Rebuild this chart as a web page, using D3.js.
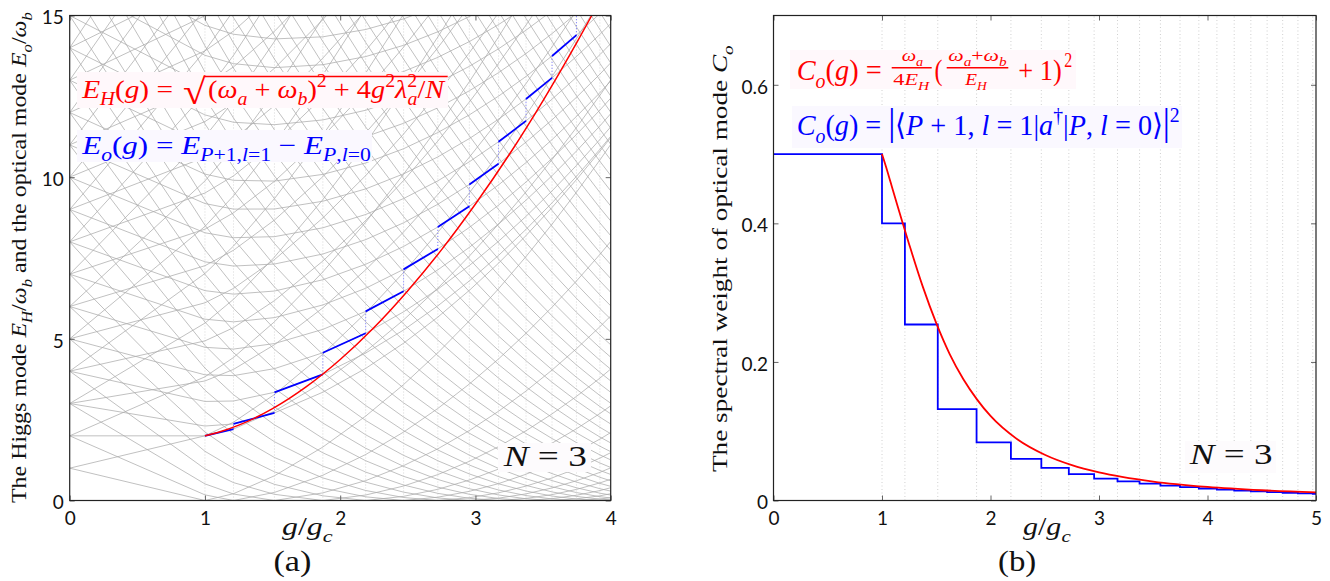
<!DOCTYPE html>
<html>
<head>
<meta charset="utf-8">
<script src="https://cdn.jsdelivr.net/npm/d3@7"></script>
<style>
body { margin: 0; background: #fff; }
text { white-space: pre; }
</style>
</head>
<body>
<svg id="fig" width="1330" height="581"></svg>
<script>
// spectrum of sector P: levels start at E=P (g=0) and fan out with these slopes
var bigSlope = [0, 1, 1.8257, 2.4862, 3.0205, 3.4775, 3.8826, 4.2500, 4.5884, 4.9038, 5.2002,
  5.4806, 5.7475, 6.0026, 6.2473, 6.4828, 6.7101, 6.9299, 7.1430, 7.3499, 7.5511,
  7.7472, 7.9384, 8.1251, 8.3076, 8.4862, 8.6611, 8.8326, 9.0008, 9.1659, 9.3281,
  9.4875, 9.6443, 9.7986, 9.9504, 10.1000, 10.2475, 10.3928, 10.5361, 10.6775, 10.8171,
  10.9549, 11.0909, 11.2254, 11.3582, 11.4895, 11.6193, 11.7477, 11.8747, 12.0003, 12.1247,
  12.2478, 12.3696, 12.4903, 12.6098, 12.7282];
var smallSlope = [null, null, 0, 0.6967, 0.9364, 1.1137, 1.2618, 1.3920, 1.5099, 1.6186, 1.7200,
  1.8155, 1.9059, 1.9922, 2.0747, 2.1540, 2.2305, 2.3043, 2.3758, 2.4452, 2.5127,
  2.5784, 2.6424, 2.7049, 2.7659, 2.8257, 2.8842, 2.9415, 2.9977, 3.0529, 3.1071,
  3.1603, 3.2127, 3.2642, 3.3149, 3.3649, 3.4141, 3.4626, 3.5104, 3.5576, 3.6042,
  3.6502, 3.6956, 3.7405, 3.7848, 3.8286, 3.8719, 3.9147, 3.9571, 3.9990, 4.0405,
  4.0816, 4.1222, 4.1625, 4.2023, 4.2418];

// Higgs mode E_H(g)
var higgsG = [1, 1.1, 1.25, 1.5, 1.75, 2, 2.25, 2.5, 2.75, 3, 3.25, 3.5, 3.75, 3.86];
var higgsE = [2.0, 2.11, 2.33, 2.84, 3.52, 4.36, 5.35, 6.49, 7.76, 9.17, 10.70, 12.37, 14.17, 15.0];

// spectral weight, panel (b)
var weightG = [1, 1.05, 1.1, 1.25, 1.375, 1.5, 1.625, 1.75, 1.875, 2, 2.25, 2.5, 2.75, 3, 3.5, 4, 4.5, 5];
var weightC = [0.5, 0.475, 0.448, 0.370, 0.309, 0.256, 0.211, 0.175, 0.146, 0.122, 0.088, 0.066,
  0.051, 0.0405, 0.0273, 0.0196, 0.0148, 0.0116];
var stepC = [0.5, 0.40, 0.254, 0.132, 0.084, 0.060, 0.047, 0.038, 0.0315, 0.0277, 0.0243,
  0.0215, 0.0192, 0.0173, 0.0157, 0.0143, 0.0131, 0.0121, 0.0112, 0.0104, 0.0097];

var ticksA = { x: [0, 1, 2, 3, 4], y: [0, 5, 10, 15] };
var ticksB = { x: [0, 1, 2, 3, 4, 5], y: [0, 0.2, 0.4, 0.6] };

var svg = d3.select("#fig");
var serif = "'Liberation Serif', 'Times New Roman', serif";
var sans = "Lato, 'Open Sans', sans-serif";

var xA = d3.scaleLinear().domain([0, 4]).range([69.7, 610.7]);
var yA = d3.scaleLinear().domain([0, 15]).range([500.5, 15.5]);
var xB = d3.scaleLinear().domain([0, 5]).range([773.5, 1316]);
var yB = d3.scaleLinear().domain([0, 0.7]).range([500.5, 15.5]);

// where the ground state moves to the next sector
var kinkG = bigSlope.slice(0, -1).map(function(b, P) { return 1 / (bigSlope[P + 1] - b); });
function ground(g) { return d3.min(bigSlope, function(b, P) { return P - b * g; }); }
function levels(P) {
  if (P === 0) return [0];
  if (P === 1) return [-1, 1];
  if (P === 2) return [-bigSlope[2], 0, bigSlope[2]];
  return [-bigSlope[P], -smallSlope[P], smallSlope[P], bigSlope[P]];
}

var defs = svg.append("defs");
defs.append("clipPath").attr("id", "clipA").append("rect")
  .attr("x", xA(0)).attr("y", yA(15)).attr("width", xA(4) - xA(0)).attr("height", yA(0) - yA(15));
defs.append("clipPath").attr("id", "clipB").append("rect")
  .attr("x", xB(0)).attr("y", yB(0.7)).attr("width", xB(5) - xB(0)).attr("height", yB(0) - yB(0.7));

// ---------- panel (a) ----------
var pa = svg.append("g").attr("clip-path", "url(#clipA)");
var gSamples = [0].concat(kinkG.filter(function(k) { return k < 4; })).concat([4]);
var lineA = d3.line().x(function(d) { return xA(d[0]); }).y(function(d) { return yA(d[1]); });

pa.selectAll(".kink").data(kinkG.filter(function(k) { return k < 4; })).enter().append("line")
  .attr("x1", function(d) { return xA(d); }).attr("x2", function(d) { return xA(d); })
  .attr("y1", yA(0)).attr("y2", yA(15))
  .attr("stroke", "#cfcfcf").attr("stroke-width", 0.8).attr("stroke-dasharray", "1,2");

var mesh = [];
bigSlope.forEach(function(b, P) {
  levels(P).forEach(function(s) {
    mesh.push(gSamples.map(function(g) { return [g, P + s * g - ground(g)]; }));
  });
});
pa.selectAll(".level").data(mesh).enter().append("path")
  .attr("d", lineA).attr("fill", "none")
  .attr("stroke", "#ababab").attr("stroke-width", 0.75);

// optical mode: E_{P+1,l=1} - E_{P,l=0} on each ground-state interval
function optical(P, g) { return (P + 1 - smallSlope[P + 1] * g) - (P - bigSlope[P] * g); }
var segs = [], jumps = [];
for (var P = 1; P < kinkG.length && kinkG[P - 1] < 4; P++) {
  var g0 = kinkG[P - 1], g1 = Math.min(kinkG[P], 4);
  segs.push([[g0, optical(P, g0)], [g1, optical(P, g1)]]);
  if (kinkG[P] < 4) jumps.push([[g1, optical(P, g1)], [g1, optical(P + 1, g1)]]);
}
pa.selectAll(".jump").data(jumps).enter().append("path")
  .attr("d", lineA).attr("fill", "none")
  .attr("stroke", "#7d7dff").attr("stroke-width", 1).attr("stroke-dasharray", "1,2");
pa.selectAll(".seg").data(segs).enter().append("path")
  .attr("d", lineA).attr("fill", "none")
  .attr("stroke", "#0000ff").attr("stroke-width", 1.8);

pa.append("path")
  .datum(d3.zip(higgsG, higgsE))
  .attr("d", lineA.curve(d3.curveMonotoneX))
  .attr("fill", "none").attr("stroke", "#ff0000").attr("stroke-width", 1.5);

// ---------- panel (b) ----------
var pb = svg.append("g").attr("clip-path", "url(#clipB)");
pb.selectAll(".kink").data(kinkG.filter(function(k) { return k < 5; })).enter().append("line")
  .attr("x1", function(d) { return xB(d); }).attr("x2", function(d) { return xB(d); })
  .attr("y1", yB(0)).attr("y2", yB(0.7))
  .attr("stroke", "#c4c4c4").attr("stroke-width", 0.8).attr("stroke-dasharray", "1,2.5");

var stepPts = stepC.map(function(c, i) { return [i === 0 ? 0 : kinkG[i - 1], c]; });
stepPts.push([5, stepC[stepC.length - 1]]);
pb.append("path").datum(stepPts)
  .attr("d", d3.line().x(function(d) { return xB(d[0]); }).y(function(d) { return yB(d[1]); })
    .curve(d3.curveStepAfter))
  .attr("fill", "none").attr("stroke", "#0000ff").attr("stroke-width", 1.8);
pb.append("path").datum(d3.zip(weightG, weightC))
  .attr("d", d3.line().x(function(d) { return xB(d[0]); }).y(function(d) { return yB(d[1]); })
    .curve(d3.curveMonotoneX))
  .attr("fill", "none").attr("stroke", "#ff0000").attr("stroke-width", 1.8);

// ---------- axes and frames ----------
function frame(x, y, tx, ty, fmt, pad) {
  var b = svg.append("g").attr("transform", "translate(0," + y.range()[0] + ")")
    .call(d3.axisBottom(x).tickValues(tx).tickSize(-5).tickPadding(11).tickFormat(d3.format("d")));
  var t = svg.append("g").attr("transform", "translate(0," + y.range()[1] + ")")
    .call(d3.axisTop(x).tickValues(tx).tickSize(-5).tickFormat(""));
  var l = svg.append("g").attr("transform", "translate(" + x.range()[0] + ",0)")
    .call(d3.axisLeft(y).tickValues(ty).tickSize(-5).tickPadding(pad).tickFormat(fmt));
  var r = svg.append("g").attr("transform", "translate(" + x.range()[1] + ",0)")
    .call(d3.axisRight(y).tickValues(ty).tickSize(-5).tickFormat(""));
  [b, t, l, r].forEach(function(a) {
    a.select(".domain").remove();
    a.selectAll(".tick line").attr("stroke", "#666");
    a.selectAll("text").attr("font-family", sans).attr("font-size", 19).attr("fill", "#111");
  });
  l.selectAll("text").attr("dy", "0.44em");
  svg.append("rect")
    .attr("x", x.range()[0]).attr("y", y.range()[1])
    .attr("width", x.range()[1] - x.range()[0]).attr("height", y.range()[0] - y.range()[1])
    .attr("fill", "none").attr("stroke", "#222").attr("stroke-width", 1.2);
}
frame(xA, yA, ticksA.x, ticksA.y, d3.format("d"), 6);
frame(xB, yB, ticksB.x, ticksB.y, function(d) { return d === 0 ? "0" : d3.format(".1f")(d); }, 5.5);

// ---------- math text ----------
function math(parent, x, y, size, color, parts, anchor) {
  var t = parent.append("text").attr("x", x).attr("y", y)
    .attr("font-family", serif).attr("font-size", size).attr("fill", color)
    .attr("text-anchor", anchor || "start");
  var shift = 0;
  parts.forEach(function(p) {
    var f = p[1] || "";
    var sub = f.indexOf("b") >= 0, sup = f.indexOf("p") >= 0;
    var target = sub ? size * 0.28 : sup ? -size * 0.42 : 0;
    var ts = t.append("tspan").text(p[0])
      .attr("font-size", p[3] || ((sub || sup) ? size * 0.7 : size))
      .attr("dy", target - shift);
    if (f.indexOf("i") >= 0) ts.attr("font-style", "italic");
    if (p[2]) ts.attr("dx", p[2]);
    shift = target;
  });
  return t;
}
function fit(t, x0, w) {
  var bb = t.node().getBBox();
  t.attr("transform", "translate(" + x0 + ",0) scale(" + (w / bb.width) + ",1) translate(" + (-bb.x) + ",0)");
  return t;
}
function box(x0, y0, x1, y1, fill) {
  svg.append("rect").attr("x", x0).attr("y", y0).attr("width", x1 - x0).attr("height", y1 - y0)
    .attr("fill", fill);
}

// panel (a) labels
box(77, 72, 448, 108, "#fff8fb");
fit(math(svg, 0, 98, 26, "#ff0000", [["E", "i"], ["H", "ib"], ["(", ""], ["g", "i"], [") =", ""]]), 81, 92);
fit(math(svg, 0, 104, 36, "#ff0000", [["\u221A", ""]]), 183, 23);
svg.append("line").attr("x1", 204.5).attr("x2", 447.7).attr("y1", 76.5).attr("y2", 76.5)
  .attr("stroke", "#ff0000").attr("stroke-width", 1.6);
fit(math(svg, 0, 98, 26, "#ff0000", [["(", ""], ["\u03C9", "i"], ["a", "ib"], [" + ", ""], ["\u03C9", "i"],
  ["b", "ib"], [")", ""], ["2", "p"], [" + 4", ""], ["g", "i"], ["2", "p"], ["\u03BB", "i"], ["2", "p"],
  ["a", "ib", -9], ["/", ""], ["N", "i"]]), 208, 238);

box(77, 130, 372, 162, "#faf8ff");
fit(math(svg, 0, 154, 26, "#0000ff", [["E", "i"], ["o", "ib"], ["(", ""], ["g", "i"], [") = ", ""],
  ["E", "i"], ["P", "ib"], ["+1,", "b"], ["l", "ib"], ["=1", "b"], [" \u2212 ", ""],
  ["E", "i"], ["P", "ib"], [",", "b"], ["l", "ib"], ["=0", "b"]]), 81, 290);

box(498, 443, 591, 472, "#fdfbfd");
fit(math(svg, 0, 466, 30, "#111", [["N", "i"], [" = 3", ""]]), 502.4, 84.4);

// panel (b) labels
box(790, 50, 1076, 89, "#fff8fb");
fit(math(svg, 0, 80, 30, "#ff0000", [["C", "i"], ["o", "ib"], ["(", ""], ["g", "i"], [") =", ""]]), 796.7, 85);
fit(math(svg, 0, 61, 17, "#ff0000", [["\u03C9", "i"], ["a", "ib"]]), 901.7, 21.6);
fit(math(svg, 0, 85.5, 17, "#ff0000", [["4", ""], ["E", "i"], ["H", "ib"]]), 893.3, 37.7);
fit(math(svg, 0, 61, 17, "#ff0000", [["\u03C9", "i"], ["a", "ib"], ["+", ""], ["\u03C9", "i"], ["b", "ib"]]), 948.3, 58.4);
fit(math(svg, 0, 85.5, 17, "#ff0000", [["E", "i"], ["H", "ib"]]), 964, 24.3);
svg.append("line").attr("x1", 891.7).attr("x2", 931.7).attr("y1", 67.7).attr("y2", 67.7)
  .attr("stroke", "#ff0000").attr("stroke-width", 1.5);
svg.append("line").attr("x1", 946.7).attr("x2", 1008.3).attr("y1", 67.7).attr("y2", 67.7)
  .attr("stroke", "#ff0000").attr("stroke-width", 1.5);
fit(math(svg, 0, 80, 30, "#ff0000", [["(", ""]]), 934.5, 8);
fit(math(svg, 0, 80, 30, "#ff0000", [["+ 1)", ""]]), 1018.3, 43.4);
fit(math(svg, 0, 66.7, 20, "#ff0000", [["2", ""]]), 1064.3, 8);

box(792, 106, 1182, 148, "#faf8ff");
fit(math(svg, 0, 135, 30, "#0000ff", [["C", "i"], ["o", "ib"], ["(", ""], ["g", "i"], [") = ", ""],
  ["|", "", 0, 38], ["\u27E8", ""], ["P", "i"], [" + 1, ", ""], ["l", "i"], [" = 1|", ""], ["a", "i"],
  ["\u2020", "p"], ["|", ""], ["P", "i"], [", ", ""], ["l", "i"], [" = 0\u27E9", ""], ["|", "", 0, 38],
  ["2", "p"]]), 796.7, 384.3);

box(1185, 441, 1276, 473, "#fdfbfd");
fit(math(svg, 0, 464, 30, "#111", [["N", "i"], [" = 3", ""]]), 1188.5, 84);

// axis titles
function vtitle(cx, cy, len, parts) {
  var g = svg.append("g").attr("transform", "translate(" + cx + "," + cy + ") rotate(-90)");
  fit(math(g, 0, 0, 21, "#111", parts), -len / 2, len);
}
vtitle(26, 257.5, 491, [["The Higgs mode ", ""], ["E", "i"], ["H", "ib"], ["/", ""], ["\u03C9", "i"], ["b", "ib"],
  [" and the optical mode ", ""], ["E", "i"], ["o", "ib"], ["/", ""], ["\u03C9", "i"], ["b", "ib"]]);
vtitle(727, 258.5, 427, [["The spectral weight of optical mode ", ""], ["C", "i"], ["o", "ib"]]);

var gTitle = [["g", "i"], ["/", ""], ["g", "i"], ["c", "ib"]];
fit(math(svg, 0, 535, 25, "#111", gTitle), 282, 51);
fit(math(svg, 0, 535, 25, "#111", gTitle), 1023, 48);
fit(math(svg, 0, 571, 29, "#111", [["(a)", ""]]), 273.4, 38);
fit(math(svg, 0, 571, 29, "#111", [["(b)", ""]]), 998, 38.3);
</script>
</body>
</html>
